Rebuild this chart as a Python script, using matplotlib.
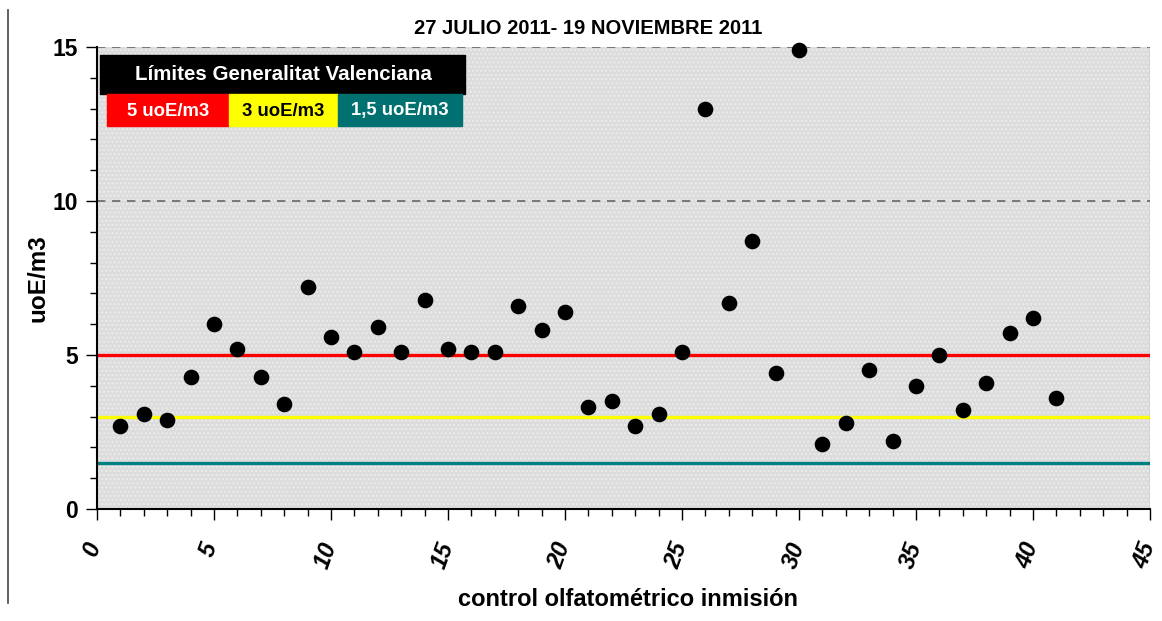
import numpy as np
import matplotlib.pyplot as plt
import matplotlib.transforms as mtransforms
from matplotlib.patches import Rectangle
from matplotlib.lines import Line2D
from matplotlib.ticker import MultipleLocator

plt.rcParams['font.family'] = ['Liberation Sans', 'DejaVu Sans']

# control number and measured odour concentration (uoE/m3)
controles = np.arange(1, 42)
valores = [2.7, 3.1, 2.9, 4.3, 6.0, 5.2, 4.3, 3.4, 7.2, 5.6,
           5.1, 5.9, 5.1, 6.8, 5.2, 5.1, 5.1, 6.6, 5.8, 6.4,
           3.3, 3.5, 2.7, 3.1, 5.1, 13.0, 6.7, 8.7, 4.4, 14.9,
           2.1, 2.8, 4.5, 2.2, 4.0, 5.0, 3.2, 4.1, 5.7, 6.2, 3.6]

limites = [5, 3, 1.5]
limite_labels = ["5 uoE/m3", "3 uoE/m3", "1,5 uoE/m3"]
limite_colors = ["#ff0000", "#ffff00", "#007070"]
limite_lines = ["#ff0000", "#ffff00", "#008080"]
limite_text = ["white", "black", "white"]

W, H = 1162, 621
fig = plt.figure(figsize=(W / 100, H / 100), dpi=100)
ax = fig.add_axes([97 / W, 1 - 509 / H, (1150 - 97) / W, (509 - 47) / H])
ax.set_facecolor("#dcdcdc")
# fine dotted texture like the original fill
ax.add_patch(Rectangle((0, 0), 1, 1, transform=ax.transAxes, facecolor="none",
                       edgecolor="#ececec", hatch="....", lw=0, zorder=0))

ax.set_xlim(0, 45)
ax.set_ylim(0, 15)
ax.xaxis.set_major_locator(MultipleLocator(5))
ax.xaxis.set_minor_locator(MultipleLocator(1))
ax.yaxis.set_major_locator(MultipleLocator(5))
ax.yaxis.set_minor_locator(MultipleLocator(1))

for yv in [10, 15]:
    ax.axhline(yv, color="#666666", ls=(0, (5, 4)), lw=1.2, zorder=1)

for lim, c in zip(limites, limite_lines):
    ax.axhline(lim, color=c, lw=2.4, zorder=2)

ax.scatter(controles, valores, s=105, color="black", zorder=5, clip_on=False)

for s in ["top", "right"]:
    ax.spines[s].set_visible(False)
ax.spines["left"].set_linewidth(1.5)
ax.spines["bottom"].set_linewidth(1.5)
ax.plot([1, 1], [0, 1], transform=ax.transAxes, color="black", lw=0.8)

ax.tick_params(axis="both", which="major", direction="out", length=8, width=1)
ax.tick_params(axis="both", which="minor", direction="out", length=5, width=1)
ax.tick_params(axis="y", labelsize=16.5, pad=6)
ax.tick_params(axis="x", labelsize=17, pad=14)
for lbl in ax.get_yticklabels():
    lbl.set_fontweight("bold")
shift = mtransforms.ScaledTranslation(-5 / 100, 0, fig.dpi_scale_trans)
for lbl in ax.get_xticklabels():
    lbl.set_fontweight("bold")
    lbl.set_fontstyle("italic")
    lbl.set_rotation(70)
    lbl.set_ha("center")
    lbl.set_va("top")
    lbl.set_transform(lbl.get_transform() + shift)

fig.text(588 / W, 1 - 28 / H, "27 JULIO 2011- 19 NOVIEMBRE 2011",
         fontsize=14.5, fontweight="bold", ha="center", va="center")
fig.text(38 / W, 1 - 278 / H, "uoE/m3", fontsize=17.5, fontweight="bold",
         rotation=90, ha="center", va="center")
fig.text(628 / W, 1 - 599 / H, "control olfatométrico inmisión",
         fontsize=17, fontweight="bold", ha="center", va="center")

# legend block drawn in pixel coordinates of the figure
def box(x0, y0, x1, y1, color):
    fig.patches.append(Rectangle((x0 / W, 1 - y1 / H), (x1 - x0) / W, (y1 - y0) / H,
                                 transform=fig.transFigure, color=color, zorder=10))

box(100, 55, 465, 94, "black")
fig.text(283 / W, 1 - 74 / H, "Límites Generalitat Valenciana", color="white",
         fontsize=14.8, fontweight="bold", ha="center", va="center", zorder=11)
edges = [107, 229, 338, 462]
for i in range(3):
    box(edges[i], 94, edges[i + 1], 126, limite_colors[i])
    fig.text((edges[i] + edges[i + 1]) / 2 / W, 1 - 111 / H, limite_labels[i],
             color=limite_text[i], fontsize=13.3, fontweight="bold",
             ha="center", va="center", zorder=11)

fig.lines.append(Line2D([8 / W, 8 / W], [1 - 10 / H, 1 - 603 / H],
                        transform=fig.transFigure, color="#444444", lw=1.2))

fig.savefig("out.png", dpi=100)
